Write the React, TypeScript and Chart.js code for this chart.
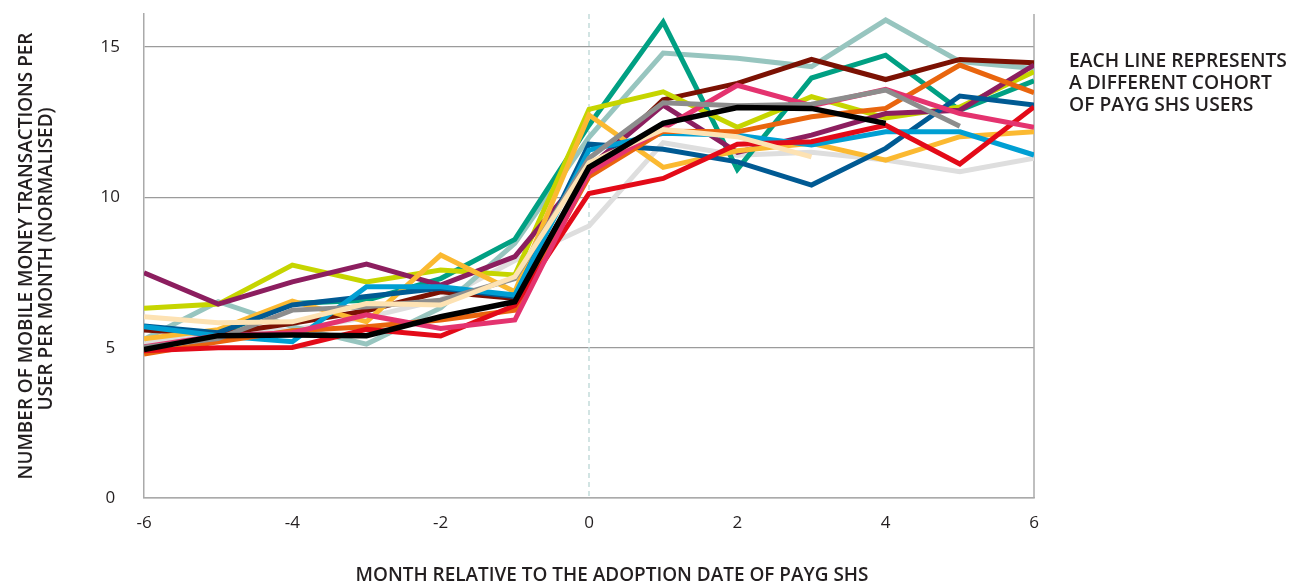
import React, { useEffect, useRef } from "react";
import { Chart, registerables } from "chart.js";
Chart.register(...registerables);

const months = [-6, -5, -4, -3, -2, -1, 0, 1, 2, 3, 4, 5, 6];
const yTickValues = [0, 5, 10, 15];

const blackSeries = [4.94, 5.4, 5.42, 5.4, 6.03, 6.53, 11.0, 12.46, 12.99, 12.96, 12.46, null, null];
const creamSeries = [6.03, 5.83, 5.86, 6.47, 6.42, 7.36, 11.15, 12.26, 12.02, 11.35, null, null, null];
const graySeries = [5.01, 5.3, 6.25, 6.36, 6.58, 7.3, 11.3, 13.15, 13.05, 13.1, 13.57, 12.37, null];
const pinkSeries = [5.03, 5.4, 5.5, 6.09, 5.64, 5.92, 10.82, 12.3, 13.73, 13.05, 13.59, 12.79, 12.33];
const redSeries = [4.9, 5.0, 5.01, 5.61, 5.39, 6.4, 10.13, 10.63, 11.77, 11.85, 12.4, 11.11, 13.01];
const orangeSeries = [4.79, 5.2, 5.56, 5.7, 5.92, 6.25, 10.69, 12.2, 12.18, 12.68, 12.96, 14.4, 13.48];
const lightBlueSeries = [5.7, 5.4, 5.2, 7.03, 7.03, 6.75, 11.57, 12.13, 12.07, 11.74, 12.18, 12.18, 11.41];
const darkBlueSeries = [5.72, 5.5, 6.42, 6.7, 6.98, 6.7, 11.77, 11.6, 11.18, 10.41, 11.63, 13.37, 13.07];
const amberSeries = [5.3, 5.6, 6.55, 5.86, 8.08, 6.86, 12.74, 11.0, 11.55, 11.8, 11.24, 12.02, 12.18];
const purpleSeries = [7.49, 6.45, 7.19, 7.78, 7.08, 8.03, 11.0, 13.07, 11.5, 12.07, 12.79, 12.9, 14.4];
const limeSeries = [6.31, 6.45, 7.75, 7.19, 7.58, 7.42, 12.93, 13.51, 12.33, 13.35, 12.64, 13.01, 14.18];
const darkRedSeries = [5.59, 5.45, 5.81, 6.23, 6.86, 6.64, 10.91, 13.25, 13.79, 14.59, 13.92, 14.59, 14.48];
const tealSeries = [5.68, 5.45, 6.47, 6.58, 7.3, 8.6, 12.4, 15.83, 10.93, 13.97, 14.73, 12.9, 13.88];
const paleTealSeries = [5.28, 6.53, 5.7, 5.12, 6.32, 8.47, 12.0, 14.8, 14.63, 14.35, 15.9, 14.52, 14.29];
const lightGraySeries = [5.2, 5.5, 5.6, 6.0, 6.6, 7.9, 9.05, 11.82, 11.4, 11.5, 11.24, 10.85, 11.3];

const cohorts = [
  { name: "Cohort 1", values: blackSeries, color: "#000000" },
  { name: "Cohort 2", values: creamSeries, color: "#fde2b3" },
  { name: "Cohort 3", values: graySeries, color: "#8d8d8d" },
  { name: "Cohort 4", values: pinkSeries, color: "#e4336f" },
  { name: "Cohort 5", values: redSeries, color: "#e30a18" },
  { name: "Cohort 6", values: orangeSeries, color: "#e9650e" },
  { name: "Cohort 7", values: lightBlueSeries, color: "#009fd3" },
  { name: "Cohort 8", values: darkBlueSeries, color: "#005a93" },
  { name: "Cohort 9", values: amberSeries, color: "#fbb931" },
  { name: "Cohort 10", values: purpleSeries, color: "#8c1e5f" },
  { name: "Cohort 11", values: limeSeries, color: "#c6d500" },
  { name: "Cohort 12", values: darkRedSeries, color: "#7b1103" },
  { name: "Cohort 13", values: tealSeries, color: "#00a083" },
  { name: "Cohort 14", values: paleTealSeries, color: "#97c5bf" },
  { name: "Cohort 15", values: lightGraySeries, color: "#dedede" },
];

const xTitle = "MONTH RELATIVE TO THE ADOPTION DATE OF PAYG SHS";
const yTitleLines = ["NUMBER OF MOBILE MONEY TRANSACTIONS PER", "USER PER MONTH (NORMALISED)"];
const noteLines = ["EACH LINE REPRESENTS", "A DIFFERENT COHORT", "OF PAYG SHS USERS"];

const FONT = "'Open Sans', 'Noto Sans', sans-serif";
const TEXT = "#231f20";

function fitFont(ctx: CanvasRenderingContext2D, text: string, weight: string, target: number) {
  ctx.font = `${weight} 100px ${FONT}`;
  const w = ctx.measureText(text).width;
  const size = (100 * target) / w;
  return `${weight} ${size.toFixed(2)}px ${FONT}`;
}

const decor = {
  id: "decor",
  beforeDatasetsDraw(chart: any) {
    const { ctx, chartArea, scales } = chart;
    const x0 = scales.x.getPixelForValue(0);
    ctx.save();
    ctx.strokeStyle = "#c3dbda";
    ctx.lineWidth = 1.5;
    ctx.setLineDash([5, 4]);
    ctx.beginPath();
    ctx.moveTo(x0, chartArea.top);
    ctx.lineTo(x0, chartArea.bottom);
    ctx.stroke();
    ctx.setLineDash([]);
    ctx.strokeStyle = "#aaaaaa";
    ctx.lineWidth = 1.5;
    ctx.beginPath();
    ctx.moveTo(chartArea.right, chartArea.top);
    ctx.lineTo(chartArea.right, chartArea.bottom);
    ctx.stroke();
    ctx.restore();
  },
  afterDraw(chart: any) {
    const { ctx } = chart;
    ctx.save();
    ctx.fillStyle = TEXT;
    ctx.textBaseline = "middle";
    ctx.textAlign = "center";
    ctx.font = fitFont(ctx, xTitle, "600", 513);
    ctx.fillText(xTitle, 612, 576);
    ctx.save();
    ctx.translate(27, 256);
    ctx.rotate(-Math.PI / 2);
    ctx.font = fitFont(ctx, yTitleLines[0], "600", 447);
    ctx.fillText(yTitleLines[0], 0, 0);
    ctx.restore();
    ctx.save();
    ctx.translate(47, 259);
    ctx.rotate(-Math.PI / 2);
    ctx.fillText(yTitleLines[1], 0, 0);
    ctx.restore();
    ctx.textAlign = "left";
    ctx.font = fitFont(ctx, noteLines[0], "600", 218);
    noteLines.forEach((t, i) => ctx.fillText(t, 1069, 62 + i * 21.7));
    ctx.restore();
  },
};

export default function App() {
  const ref = useRef<HTMLCanvasElement>(null);
  useEffect(() => {
    document.body.style.margin = "0";
    const chart = new Chart(ref.current!, {
      type: "line",
      data: {
        datasets: cohorts.map((c) => ({
          label: c.name,
          data: months
            .map((m, i) => ({ x: m, y: c.values[i] }))
            .filter((p) => p.y !== null) as any,
          borderColor: c.color,
          backgroundColor: c.color,
          borderWidth: c.color === "#000000" ? 5.5 : 5,
          pointRadius: 0,
          tension: 0,
          fill: false,
          borderJoinStyle: "miter" as const,
        })),
      },
      options: {
        responsive: false,
        animation: false,
        events: [],
        layout: { padding: { left: 0, right: 257, top: 14, bottom: 0 } },
        plugins: { legend: { display: false }, tooltip: { enabled: false } },
        scales: {
          x: {
            type: "linear",
            min: -6,
            max: 6,
            afterFit: (s: any) => {
              s.height = 87;
              s.paddingLeft = 0;
              s.paddingRight = 0;
            },
            ticks: { stepSize: 2, padding: 15, color: TEXT, font: { family: FONT, size: 17 }, maxRotation: 0 },
            grid: { display: false, drawTicks: false },
            border: { display: true, color: "#aaaaaa", width: 1.5 },
          },
          y: {
            min: 0,
            max: 16.1,
            afterFit: (s: any) => {
              s.width = 144;
              s.paddingTop = 0;
              s.paddingBottom = 0;
            },
            afterBuildTicks: (s: any) => {
              s.ticks = yTickValues.map((v) => ({ value: v }));
            },
            ticks: { padding: 24, crossAlign: "center", color: TEXT, font: { family: FONT, size: 17 } },
            grid: { color: "#9b9b9b", lineWidth: 1.2, drawTicks: false },
            border: { display: true, color: "#aaaaaa", width: 1.5 },
          },
        },
      },
      plugins: [decor],
    });
    return () => chart.destroy();
  }, []);
  return (
    <div style={{ position: "relative", width: 1291, height: 585 }}>
      <canvas ref={ref} width={1291} height={585} style={{ width: 1291, height: 585 }} />
    </div>
  );
}
